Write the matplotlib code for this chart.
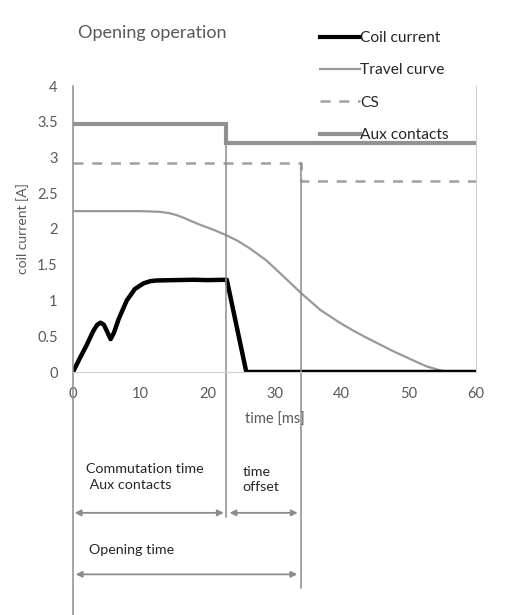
import matplotlib
matplotlib.use("Agg")
import matplotlib.pyplot as plt
from matplotlib.lines import Line2D

plt.rcParams['font.family'] = ['Lato', 'DejaVu Sans']

# Data
coil_t = [0, 1.0, 2.0, 3.0, 3.6, 4.1, 4.6, 5.1, 5.6, 6.1, 6.8, 8.0, 9.2, 10.5, 11.5, 12.4, 15, 18, 20, 22.9, 25.8, 30, 40, 50, 60]
coil_i = [0, 0.19, 0.37, 0.57, 0.66, 0.69, 0.66, 0.56, 0.46, 0.55, 0.74, 1.00, 1.16, 1.24, 1.27, 1.28, 1.285, 1.29, 1.285, 1.29, 0.0, 0.0, 0.0, 0.0, 0.0]

travel_t = [0, 5, 10, 11.5, 13.0, 14.4, 15.4, 16.4, 17.6, 18.9, 20.9, 22.9, 24.6, 26.3, 28.8, 31.3, 34.0, 36.8, 39.7, 41.7, 43.7, 47.7, 50.7, 52.6, 54.6, 56.1, 58, 60]
travel_v = [2.25, 2.25, 2.25, 2.245, 2.24, 2.22, 2.195, 2.16, 2.11, 2.06, 1.99, 1.91, 1.83, 1.73, 1.56, 1.34, 1.10, 0.87, 0.69, 0.58, 0.48, 0.29, 0.16, 0.08, 0.025, 0.0, 0.0, 0.0]

cs_t = [0, 34.0, 34.0, 60]
cs_v = [2.93, 2.93, 2.67, 2.67]

aux_t = [0, 22.8, 22.8, 60]
aux_v = [3.47, 3.47, 3.2, 3.2]

t_aux = 22.8
t_cs = 34.0

xticks = [0, 10, 20, 30, 40, 50, 60]
yticks = [0, 0.5, 1, 1.5, 2, 2.5, 3, 3.5, 4]
ytick_labels = ['0', '0.5', '1', '1.5', '2', '2.5', '3', '3.5', '4']

tick_col = '#595959'
line_gray = '#8c8c8c'

fig = plt.figure(figsize=(5.05, 6.15), dpi=100)
ax = fig.add_axes([73/505, 1-372/615, (476-73)/505, (372-86)/615])

ax.plot(aux_t, aux_v, color='#929292', lw=3.0, label='Aux contacts', solid_joinstyle='miter')
ax.plot(cs_t, cs_v, color='#a0a0a0', lw=1.8, ls=(0, (4, 3.5)), label='CS')
ax.plot(travel_t, travel_v, color='#999999', lw=1.6, label='Travel curve')
ax.plot(coil_t, coil_i, color='black', lw=3.2, label='Coil current')

ax.set_xlim(0, 60)
ax.set_ylim(0, 4)
ax.set_xticks(xticks)
ax.set_yticks(yticks)
ax.set_yticklabels(ytick_labels)
ax.tick_params(length=0, colors=tick_col, labelsize=10.5)
ax.tick_params(axis='y', pad=11)
ax.tick_params(axis='x', pad=11)
for s in ['top', 'left']:
    ax.spines[s].set_visible(False)
ax.spines['bottom'].set_color('#d0d0d0')
ax.spines['right'].set_color('#d0d0d0')

ax.set_xlabel('time [ms]', color=tick_col, fontsize=10.5, labelpad=8)
ax.set_ylabel('coil current [A]', color=tick_col, fontsize=10, labelpad=6)

# vertical marker lines
ax.plot([0, 0], [4, -3.45], color=line_gray, lw=1.1, clip_on=False)
ax.plot([t_aux, t_aux], [3.47, -2.03], color=line_gray, lw=1.1, clip_on=False)
ax.plot([t_cs, t_cs], [2.93, -3.02], color=line_gray, lw=1.1, clip_on=False)

arrow_kw = dict(arrowstyle='<|-|>', color='#8c8c8c', lw=1.3, mutation_scale=9, shrinkA=0, shrinkB=0)
ax.annotate('', xy=(0.25, -1.97), xytext=(t_aux - 0.35, -1.97), arrowprops=arrow_kw, annotation_clip=False)
ax.annotate('', xy=(t_aux + 0.5, -1.97), xytext=(t_cs - 0.55, -1.97), arrowprops=arrow_kw, annotation_clip=False)
ax.annotate('', xy=(0.4, -2.83), xytext=(t_cs - 0.6, -2.83), arrowprops=arrow_kw, annotation_clip=False)

txt_col = '#262626'
ax.text(1.9, -1.47, 'Commutation time\n Aux contacts', fontsize=10.3, color=txt_col,
        va='center', ha='left', linespacing=1.35, clip_on=False)
ax.text(25.2, -1.50, 'time\noffset', fontsize=10.3, color=txt_col,
        va='center', ha='left', linespacing=1.35, clip_on=False)
ax.text(2.4, -2.49, 'Opening time', fontsize=10.3, color=txt_col,
        va='center', ha='left', clip_on=False)

fig.text(78/505, 1-33/615, 'Opening operation', fontsize=13, color='#595959', va='center', ha='left')

h = [Line2D([], [], color='black', lw=3.0),
     Line2D([], [], color='#999999', lw=1.6),
     Line2D([], [], color='#a0a0a0', lw=1.8, ls=(0, (4, 3.5))),
     Line2D([], [], color='#929292', lw=3.0)]
labels = ['Coil current', 'Travel curve', 'CS', 'Aux contacts']
leg = fig.legend(h, labels, loc='upper left', bbox_to_anchor=(306/505, 1-17/615),
                 frameon=False, handlelength=2.6, handletextpad=0.0,
                 labelspacing=1.18, fontsize=11.2)
for t in leg.get_texts():
    t.set_color('#262626')

fig.savefig('out.png', dpi=100)
